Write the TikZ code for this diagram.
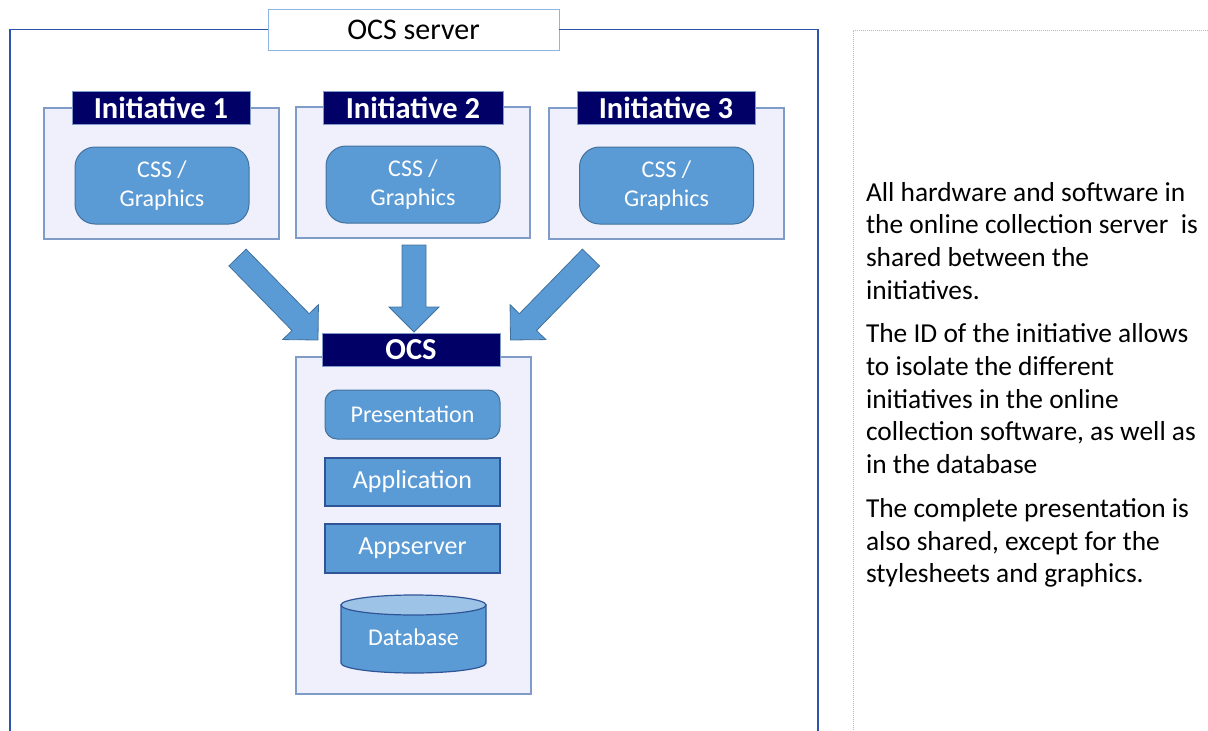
\documentclass[tikz,border=0pt]{standalone}
\usepackage{fontspec}
\setmainfont{Carlito}
\usetikzlibrary{calc}
\definecolor{navyhdr}{RGB}{0,0,102}
\definecolor{lavfill}{RGB}{240,240,252}
\definecolor{lavline}{RGB}{127,155,199}
\definecolor{accfill}{RGB}{91,155,213}
\definecolor{accline}{RGB}{65,113,156}
\definecolor{darkline}{RGB}{47,85,151}
\definecolor{frameblue}{RGB}{47,82,170}
\definecolor{titleline}{RGB}{141,180,226}
\definecolor{dbtop}{RGB}{157,195,230}
\definecolor{dotgray}{RGB}{185,185,185}
\newcommand\blockarrow[2]{%
  \filldraw[arrowshape]
    ($(#1)!12pt!90:(#2)$)
    -- ($(#2)!25pt!(#1)!12pt!-90:(#1)$)
    -- ($(#2)!25pt!(#1)!25pt!-90:(#1)$)
    -- (#2)
    -- ($(#2)!25pt!(#1)!25pt!90:(#1)$)
    -- ($(#2)!25pt!(#1)!12pt!90:(#1)$)
    -- ($(#1)!12pt!-90:(#2)$)
    -- cycle;}
\begin{document}
\begin{tikzpicture}[x=1pt,y=-1pt,
  every node/.style={inner sep=0pt, outer sep=0pt},
  titlebox/.style={draw=titleline, fill=white, line width=1pt, minimum width=291pt, minimum height=41pt, font=\fontsize{30}{35}\selectfont},
  initbox/.style={draw=lavline, fill=lavfill, line width=1.2pt, minimum width=235pt, minimum height=131pt},
  hdr/.style={draw=lavline, fill=navyhdr, line width=0.6pt, text=white, minimum width=178pt, minimum height=33pt, font=\bfseries\fontsize{30.5}{35}\selectfont},
  cssbox/.style={rounded corners=20pt, fill=accfill, draw=accline, line width=1pt, minimum width=174pt, minimum height=77pt, text=white, align=center, font=\fontsize{24}{29}\selectfont},
  presbox/.style={rounded corners=12pt, fill=accfill, draw=accline, line width=1pt, minimum width=175pt, minimum height=49pt, text=white, font=\fontsize{24}{29}\selectfont},
  layerbox/.style={fill=accfill, draw=darkline, line width=1.2pt, minimum width=175pt, minimum height=48pt, text=white, font=\fontsize{26}{31}\selectfont},
  arrowshape/.style={fill=accfill, draw=accline, line width=0.8pt, line join=miter},
  framestyle/.style={draw=frameblue, line width=1.5pt},
  bodytext/.style={align=left, anchor=north west, font=\fontsize{27.4}{32.7}\selectfont}
]
\useasboundingbox (0,0) rectangle (1208,731);

% outer frame with title
\node[titlebox] (title) at (413.5,29.5) {OCS server};
\draw[framestyle] (title.west) -| (10,731);
\draw[framestyle] (title.east) -| (818,731);

% text placeholder
\draw[dotgray, line width=0.8pt, dash pattern=on 1pt off 1pt] (1208,30) -- (853,30) -- (853,731);

% initiatives
\node[initbox] (i1) at (161.5,173.5) {};
\node[initbox, minimum width=234pt] (i2) at (413,172.5) {};
\node[initbox] (i3) at (666.5,173.5) {};
\node[hdr] (h1) at (161,107.5) {Initiative 1};
\node[hdr, minimum width=180pt] (h2) at (413,107.5) {Initiative 2};
\node[hdr] (h3) at (666,107.5) {Initiative 3};
\node[cssbox] (c1) at (162,185.5) {CSS /\\Graphics};
\node[cssbox] (c2) at (413,184.5) {CSS /\\Graphics};
\node[cssbox] (c3) at (666.5,185.5) {CSS /\\Graphics};

% OCS
\node[initbox, minimum height=337pt] (ocsbox) at (413.5,525.5) {};
\node[hdr] (ocshdr) at (411,350) {OCS};
\node[presbox] (pres) at (412.5,414.5) {Presentation};
\node[layerbox] (app) at (412.5,482) {Application};
\node[layerbox, minimum height=49pt] (aps) at (412.5,548.5) {Appserver};
\filldraw[fill=accfill, draw=darkline, line width=1.2pt]
  (341,605) -- (341,663) arc[start angle=180, end angle=0, x radius=72.5, y radius=10] -- (486,605) -- cycle;
\filldraw[fill=dbtop, draw=darkline, line width=1.2pt] (413.5,605) ellipse[x radius=72.5, y radius=10];
\node[text=white, font=\fontsize{24}{29}\selectfont] (db) at (413.5,637.5) {Database};

% arrows
\coordinate (a1s) at (237.5,257.5);
\coordinate (a1t) at (318,340);
\coordinate (a2s) at (414,245);
\coordinate (a2t) at (414,332);
\coordinate (a3s) at (591,257.5);
\coordinate (a3t) at (510.5,340);
\blockarrow{a1s}{a1t}
\blockarrow{a2s}{a2t}
\blockarrow{a3s}{a3t}

% explanatory text
\node[bodytext] (txt) at (866,182) {All hardware and software in\\
the online collection server\ \ is\\
shared between the\\
initiatives.\\[11pt]
The ID of the initiative allows\\
to isolate the different\\
initiatives in the online\\
collection software, as well as\\
in the database\\[11pt]
The complete presentation is\\
also shared, except for the\\
stylesheets and graphics.};
\end{tikzpicture}
\end{document}
